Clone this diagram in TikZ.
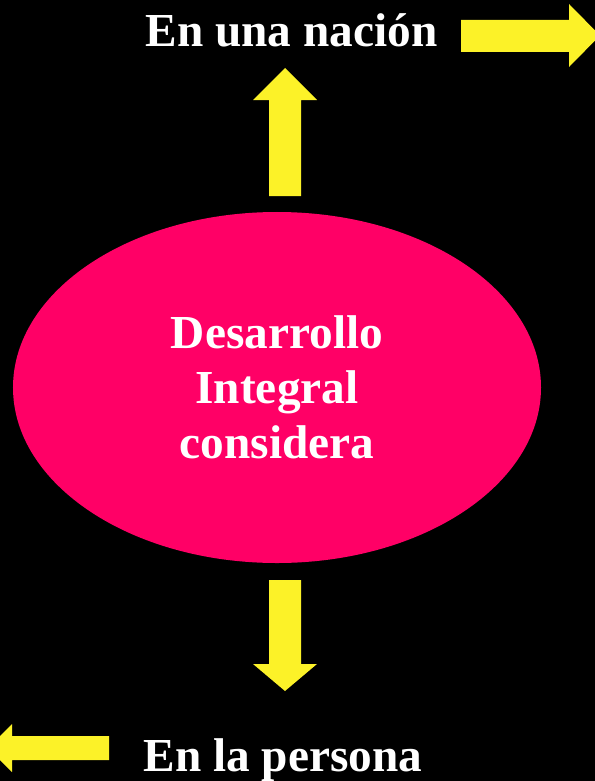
\documentclass[tikz,border=0pt]{standalone}
\usepackage{fontspec}
\setmainfont{Liberation Serif}
\usepackage{tikz}
\usetikzlibrary{shapes.geometric}
\definecolor{Rosa}{RGB}{255,0,102}
\definecolor{Amarillo}{RGB}{252,242,40}

\begin{document}
\begin{tikzpicture}[line cap=round,line join=round,x=1bp,y=-1bp,
    flecha/.style={fill=Amarillo,draw=none},
    texto/.style={text=white,font=\fontsize{47.5}{55}\selectfont\bfseries,inner sep=0pt}]
    \fill[black] (0,0) rectangle (595,781);
    \useasboundingbox (0,0) rectangle (595,781);

    \node[ellipse,fill=Rosa,minimum width=528bp,minimum height=351bp,texto,align=center] (desarrollo) at (277,387.5) {Desarrollo\\Integral\\considera};

    \node[texto,anchor=base] (nacion) at (291.5,47) {En una naci\'on};
    \node[texto,anchor=base] (persona) at (283,771) {En la persona};

    % flechas
    \fill[flecha] (269,196) -- (269,100) -- (253,100) -- (285,68) -- (317,100) -- (301,100) -- (301,196) -- cycle;
    \fill[flecha] (269,580) -- (269,664) -- (253,664) -- (285,691) -- (317,664) -- (301,664) -- (301,580) -- cycle;
    \fill[flecha] (461,20) -- (569,20) -- (569,4) -- (600,35.5) -- (569,67) -- (569,52) -- (461,52) -- cycle;
    \fill[flecha] (109,736) -- (12,736) -- (12,724) -- (-12,748) -- (12,772) -- (12,760) -- (109,760) -- cycle;
\end{tikzpicture}
\end{document}
